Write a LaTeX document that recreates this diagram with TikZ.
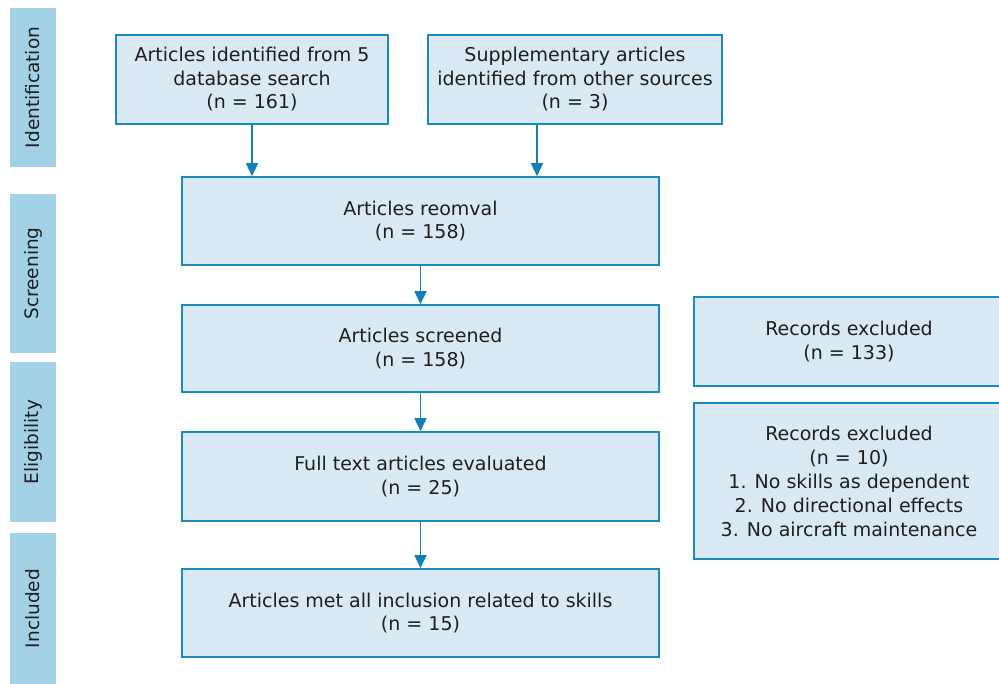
\documentclass[tikz,border=0pt]{standalone}
\usepackage{fontspec}
\setmainfont{DejaVu Sans}
\usetikzlibrary{arrows.meta}
\definecolor{boxfill}{HTML}{D9EAF4}
\definecolor{boxline}{HTML}{1A8BC2}
\definecolor{phasefill}{HTML}{A3D1E6}
\definecolor{arrowcol}{HTML}{0E82B8}
\definecolor{txt}{HTML}{1E1E1E}
\tikzset{
  flowbox/.style={draw=boxline, fill=boxfill, line width=1.6pt, text=txt, align=center,
    font=\fontsize{19}{23.5}\selectfont, inner sep=0pt},
  phasebar/.style={draw=none, text=txt, inner sep=0pt,
    font=\fontsize{18.5}{21}\selectfont},
  flowarrow/.style={draw=arrowcol, line width=1.6pt, -{Triangle[length=13pt, width=12pt]}}
}
\begin{document}
\begin{tikzpicture}[x=1pt, y=-1pt]
\useasboundingbox (0,0) rectangle (999,684);
% phase bars
\fill[phasefill] (10,8) rectangle (56,167);
\fill[phasefill] (10,194) rectangle (56,353);
\fill[phasefill] (10,362) rectangle (56,522);
\fill[phasefill] (10,533) rectangle (56,684);
\node[phasebar, rotate=90] (pid) at (33,87.5) {Identification};
\node[phasebar, rotate=90] (psc) at (33,273.5) {Screening};
\node[phasebar, rotate=90] (pel) at (33,442) {Eligibility};
\node[phasebar, rotate=90] (pin) at (33,608.5) {Included};
% boxes
\node[flowbox, minimum width=272pt, minimum height=89pt] (a) at (252,79.5)
  {Articles identified from 5\\database search\\(n = 161)};
\node[flowbox, minimum width=294pt, minimum height=89pt] (b) at (575,79.5)
  {Supplementary articles\\identified from other sources\\(n = 3)};
\node[flowbox, minimum width=477pt, minimum height=88pt] (c) at (420.5,221)
  {Articles reomval\\(n = 158)};
\node[flowbox, minimum width=477pt, minimum height=87pt] (d) at (420.5,348.5)
  {Articles screened\\(n = 158)};
\node[flowbox, minimum width=477pt, minimum height=89pt] (e) at (420.5,476.5)
  {Full text articles evaluated\\(n = 25)};
\node[flowbox, minimum width=477pt, minimum height=88pt] (f) at (420.5,613)
  {Articles met all inclusion related to skills\\(n = 15)};
\node[flowbox, minimum width=310pt, minimum height=89pt] (g) at (849,341.5)
  {Records excluded\\(n = 133)};
\node[flowbox, minimum width=310pt, minimum height=156pt, font=\fontsize{19}{24}\selectfont] (h) at (849,481)
  {Records excluded\\(n = 10)\\1. No skills as dependent\\2. No directional effects\\3. No aircraft maintenance};
% arrows
\draw[flowarrow] (a.south) -- (a.south |- c.north);
\draw[flowarrow] (b.south -| 537,0) -- (537,0 |- c.north);
\draw[flowarrow] (c.south) -- (d.north);
\draw[flowarrow] (d.south) -- (e.north);
\draw[flowarrow] (e.south) -- (f.north);
\end{tikzpicture}
\end{document}
